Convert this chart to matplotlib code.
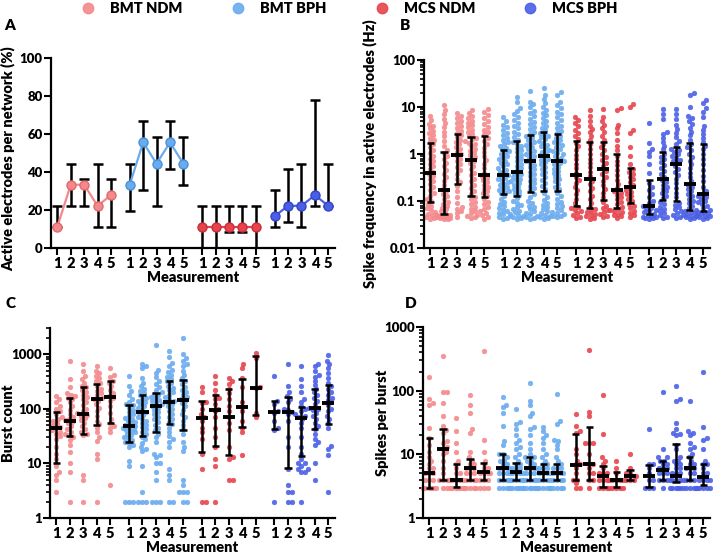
import numpy as np
import matplotlib
matplotlib.use("Agg")
import matplotlib.pyplot as plt
from matplotlib.lines import Line2D
from matplotlib.ticker import LogLocator, NullFormatter

plt.rcParams['font.family'] = ['Lato', 'DejaVu Sans']
plt.rcParams['font.weight'] = 'bold'
plt.rcParams['axes.labelweight'] = 'bold'

# groups / colours
groups = ['BMT NDM', 'BMT BPH', 'MCS NDM', 'MCS BPH']
colors = ['#F4888B', '#69ABEF', '#E6434C', '#4A5FE6']
edge_colors = ['#E06A6E', '#4A90DA', '#C8303A', '#3346C8']
measurements = ['1', '2', '3', '4', '5']

# Panel A: active electrodes per network (%), median with IQR
a_median = [[11.1, 33.3, 33.3, 22.2, 27.8],
            [33.3, 55.6, 44.4, 55.6, 44.4],
            [11.1, 11.1, 11.1, 11.1, 11.1],
            [16.7, 22.2, 22.2, 27.8, 22.2]]
a_low = [[11.1, 22.2, 22.2, 11.1, 11.1],
         [19.4, 30.6, 22.2, 41.7, 33.3],
         [0.0, 0.0, 8.3, 8.3, 0.0],
         [11.1, 13.9, 11.1, 22.2, 22.2]]
a_high = [[22.2, 44.4, 36.1, 44.4, 36.1],
          [44.4, 66.7, 58.3, 66.7, 58.3],
          [22.2, 22.2, 22.2, 22.2, 22.2],
          [30.6, 41.7, 44.4, 77.8, 44.4]]

# Panel B: spike frequency in active electrodes (Hz)
b_bmt_ndm = [
    [0.042, 0.043, 0.045, 0.047, 0.05, 0.054, 0.058, 0.063, 0.07, 0.078, 0.088,
     0.1, 0.11, 0.13, 0.15, 0.17, 0.2, 0.23, 0.26, 0.3, 0.34, 0.38,
     0.42, 0.48, 0.55, 0.62, 0.7, 0.8, 0.92, 1.05, 1.2, 1.4, 1.6,
     1.8, 2.0, 2.2, 2.5, 2.8, 3.1, 3.5, 4.0, 4.4, 5.2, 6.5],
    [0.042, 0.042, 0.043, 0.044, 0.045, 0.046, 0.047, 0.048, 0.049, 0.05, 0.051,
     0.055, 0.06, 0.066, 0.072, 0.08, 0.088, 0.097, 0.11, 0.125, 0.14, 0.16,
     0.18, 0.22, 0.27, 0.32, 0.38, 0.45, 0.55, 0.65, 0.78, 0.9, 1.05,
     1.2, 1.5, 1.9, 2.4, 3.0, 3.7, 4.5, 5.5, 7.0, 8.5, 11.0],
    [0.045, 0.055, 0.062, 0.068, 0.075, 0.09, 0.12, 0.16, 0.21,
     0.25, 0.3, 0.38, 0.45, 0.52, 0.6, 0.7, 0.8, 0.9,
     1.0, 1.1, 1.25, 1.4, 1.6, 1.8, 2.0, 2.3, 2.5,
     2.8, 3.1, 3.5, 4.0, 4.5, 5.0, 5.8, 6.5, 7.5],
    [0.043, 0.045, 0.048, 0.05, 0.055, 0.06, 0.067, 0.075, 0.085, 0.095, 0.11, 0.12,
     0.14, 0.16, 0.19, 0.22, 0.26, 0.3, 0.35, 0.4, 0.47, 0.55, 0.63, 0.7,
     0.8, 0.88, 0.97, 1.07, 1.18, 1.3, 1.45, 1.6, 1.75, 1.9, 2.05, 2.2,
     2.4, 2.7, 3.0, 3.3, 3.7, 4.1, 4.6, 5.1, 5.7, 6.4, 7.4, 8.5],
    [0.042, 0.045, 0.05, 0.055, 0.06, 0.067, 0.075, 0.085, 0.095, 0.11,
     0.13, 0.145, 0.16, 0.18, 0.2, 0.22, 0.25, 0.28, 0.31, 0.34,
     0.4, 0.5, 0.62, 0.75, 0.9, 1.1, 1.35, 1.6, 1.9, 2.2,
     2.6, 2.9, 3.3, 3.8, 4.4, 5.0, 5.8, 6.6, 7.8, 9.0],
]
b_bmt_bph = [
    [0.042, 0.044, 0.046, 0.049, 0.052, 0.056, 0.06, 0.065, 0.071, 0.078, 0.086, 0.095, 0.11, 0.125,
     0.145, 0.155, 0.165, 0.175, 0.19, 0.2, 0.215, 0.23, 0.25, 0.27, 0.29, 0.31, 0.33, 0.35,
     0.38, 0.42, 0.46, 0.5, 0.55, 0.6, 0.65, 0.71, 0.78, 0.85, 0.92, 1.0, 1.08, 1.15,
     1.25, 1.35, 1.5, 1.65, 1.8, 2.0, 2.2, 2.5, 2.8, 3.2, 3.7, 4.2, 5.0, 6.0],
    [0.042, 0.043, 0.045, 0.047, 0.05, 0.053, 0.057, 0.062, 0.068, 0.075, 0.083, 0.092, 0.1, 0.115,
     0.135, 0.15, 0.165, 0.18, 0.2, 0.22, 0.24, 0.26, 0.28, 0.3, 0.32, 0.35, 0.37, 0.4,
     0.45, 0.5, 0.56, 0.62, 0.7, 0.78, 0.87, 0.97, 1.08, 1.2, 1.35, 1.5, 1.65, 1.8,
     2.0, 2.3, 2.6, 3.0, 3.5, 4.0, 4.6, 5.3, 6.0, 7.0, 8.2, 9.5, 13.0, 16.0],
    [0.042, 0.044, 0.046, 0.049, 0.052, 0.056, 0.06, 0.066, 0.073, 0.08, 0.09, 0.1, 0.12, 0.14,
     0.17, 0.19, 0.21, 0.24, 0.27, 0.3, 0.34, 0.38, 0.42, 0.47, 0.52, 0.58, 0.64, 0.7,
     0.75, 0.82, 0.9, 0.98, 1.07, 1.17, 1.28, 1.4, 1.53, 1.67, 1.82, 2.0, 2.2, 2.4,
     2.7, 3.0, 3.4, 3.8, 4.3, 4.9, 5.6, 6.4, 7.3, 8.4, 9.8, 11.5, 13.0, 22.0],
    [0.042, 0.043, 0.045, 0.048, 0.051, 0.055, 0.06, 0.066, 0.073, 0.081, 0.09, 0.105, 0.12, 0.15,
     0.18, 0.21, 0.24, 0.28, 0.32, 0.37, 0.42, 0.48, 0.54, 0.6, 0.67, 0.74, 0.8, 0.87,
     0.95, 1.03, 1.12, 1.22, 1.33, 1.45, 1.58, 1.72, 1.88, 2.05, 2.25, 2.45, 2.65, 2.85,
     3.2, 3.6, 4.0, 4.5, 5.1, 5.8, 6.6, 7.5, 8.6, 10.0, 12.0, 15.0, 18.0, 25.0],
    [0.045, 0.047, 0.049, 0.052, 0.055, 0.059, 0.064, 0.07, 0.077, 0.085, 0.095, 0.11, 0.125, 0.15,
     0.18, 0.2, 0.23, 0.26, 0.29, 0.32, 0.36, 0.4, 0.44, 0.49, 0.54, 0.6, 0.65, 0.7,
     0.75, 0.82, 0.9, 0.98, 1.07, 1.17, 1.28, 1.4, 1.53, 1.67, 1.83, 2.0, 2.2, 2.45,
     2.8, 3.1, 3.5, 4.0, 4.6, 5.3, 6.1, 7.0, 8.0, 9.3, 11.0, 13.0, 18.0, 21.0],
]
b_mcs_ndm = [
    [0.044, 0.046, 0.05, 0.055, 0.06, 0.065, 0.07, 0.076,
     0.09, 0.11, 0.14, 0.17, 0.2, 0.24, 0.28, 0.32,
     0.4, 0.5, 0.62, 0.78, 0.95, 1.2, 1.45, 1.75,
     2.1, 2.4, 2.8, 3.3, 3.9, 4.5, 5.2, 6.0],
    [0.042, 0.044, 0.047, 0.05, 0.054, 0.058, 0.062, 0.067,
     0.075, 0.09, 0.11, 0.13, 0.16, 0.19, 0.23, 0.27,
     0.34, 0.42, 0.52, 0.65, 0.8, 1.0, 1.25, 1.6,
     2.0, 2.4, 2.9, 3.4, 4.0, 5.0, 6.5, 8.5],
    [0.045, 0.048, 0.052, 0.057, 0.063, 0.07, 0.08, 0.095,
     0.12, 0.15, 0.18, 0.22, 0.27, 0.32, 0.37, 0.43,
     0.55, 0.65, 0.75, 0.87, 1.0, 1.2, 1.4, 1.65,
     2.0, 2.4, 2.9, 3.5, 4.2, 5.0, 6.0, 9.0],
    [0.044, 0.047, 0.05, 0.054, 0.058, 0.062, 0.065, 0.068,
     0.075, 0.085, 0.095, 0.11, 0.12, 0.135, 0.15, 0.16,
     0.19, 0.23, 0.28, 0.35, 0.45, 0.58, 0.72, 0.9,
     1.2, 1.5, 2.0, 2.8, 3.5, 4.2, 8.5, 9.5],
    [0.045, 0.05, 0.056, 0.062, 0.07, 0.078, 0.085,
     0.1, 0.11, 0.125, 0.14, 0.155, 0.17, 0.19,
     0.22, 0.25, 0.29, 0.33, 0.38, 0.42, 0.47,
     0.6, 0.9, 1.4, 2.8, 3.2, 10.0, 11.5],
]
b_mcs_bph = [
    [0.042, 0.043, 0.044, 0.045, 0.046, 0.048, 0.05,
     0.054, 0.057, 0.06, 0.064, 0.068, 0.072, 0.077,
     0.09, 0.1, 0.12, 0.14, 0.17, 0.2, 0.24,
     0.4, 0.6, 0.9, 1.1, 1.3, 1.7, 4.5],
    [0.043, 0.046, 0.05, 0.055, 0.061, 0.068, 0.076, 0.085, 0.096,
     0.115, 0.13, 0.145, 0.16, 0.18, 0.2, 0.22, 0.25, 0.28,
     0.33, 0.38, 0.44, 0.5, 0.58, 0.67, 0.77, 0.88, 1.0,
     1.25, 1.5, 1.8, 2.2, 2.7, 3.0, 5.5, 7.0, 9.0],
    [0.043, 0.046, 0.05, 0.055, 0.06, 0.066, 0.073, 0.082, 0.092,
     0.12, 0.15, 0.19, 0.24, 0.3, 0.36, 0.42, 0.48, 0.55,
     0.65, 0.7, 0.76, 0.83, 0.9, 1.0, 1.1, 1.2, 1.3,
     1.6, 1.9, 2.3, 2.8, 3.4, 4.2, 5.5, 7.0, 9.0],
    [0.042, 0.043, 0.045, 0.047, 0.049, 0.051, 0.053, 0.055, 0.058, 0.06, 0.063,
     0.07, 0.08, 0.09, 0.1, 0.11, 0.125, 0.14, 0.16, 0.18, 0.2, 0.22,
     0.26, 0.32, 0.4, 0.5, 0.6, 0.72, 0.86, 1.0, 1.2, 1.4, 1.6,
     2.0, 2.5, 3.0, 3.6, 4.3, 5.0, 5.8, 6.5, 10.0, 18.0, 20.0],
    [0.042, 0.043, 0.045, 0.047, 0.049, 0.051, 0.053, 0.055, 0.057, 0.059,
     0.065, 0.07, 0.077, 0.085, 0.093, 0.1, 0.11, 0.12, 0.125, 0.135,
     0.16, 0.2, 0.26, 0.34, 0.45, 0.6, 0.8, 1.0, 1.25, 1.5,
     1.8, 2.2, 2.7, 3.3, 4.0, 6.0, 8.0, 9.5, 12.0, 14.0],
]
b_median = [[0.4, 0.17, 0.95, 0.75, 0.36], [0.36, 0.42, 0.72, 0.9, 0.72],
            [0.35, 0.3, 0.48, 0.17, 0.2], [0.08, 0.3, 0.6, 0.23, 0.14]]
b_q1 = [[0.095, 0.052, 0.23, 0.13, 0.12], [0.14, 0.13, 0.155, 0.165, 0.165],
        [0.08, 0.07, 0.105, 0.07, 0.09], [0.052, 0.105, 0.1, 0.065, 0.06]]
b_q3 = [[1.7, 1.1, 2.6, 2.3, 2.4], [1.2, 1.9, 2.5, 3.0, 2.6],
        [1.9, 1.8, 1.8, 1.0, 0.5], [0.28, 1.1, 1.4, 1.75, 1.6]]

# Panel C: burst count
c_bmt_ndm = [
    [3, 5, 6, 7, 9, 12, 15, 20, 28, 32, 35, 38, 40, 44, 46, 50, 55, 60, 65, 70, 80, 90, 100, 110, 130, 150, 170],
    [2, 7, 10, 16, 22, 27, 30, 33, 35, 38, 42, 48, 55, 58, 62, 66, 72, 80, 95, 110, 130, 150, 160, 170, 180, 190, 250, 350, 750],
    [2, 5, 6, 33, 35, 38, 42, 48, 55, 62, 68, 75, 78, 82, 90, 100, 115, 130, 150, 165, 180, 200, 220, 245, 260, 300, 350, 400, 500, 650],
    [2, 12, 15, 26, 30, 38, 45, 52, 60, 75, 90, 105, 120, 140, 150, 160, 175, 190, 210, 230, 260, 290, 320, 360, 400, 450, 500, 600],
    [4, 37, 45, 48, 55, 65, 85, 110, 140, 160, 170, 190, 220, 260, 300, 320, 380, 410, 550],
]
c_bmt_bph = [
    [2, 2, 2, 9, 11, 20, 22, 24, 25, 27, 29, 31, 33, 35, 37, 39, 41, 43, 45, 47, 49, 51, 54, 57, 60,
     64, 68, 73, 80, 88, 95, 105, 115, 120, 135, 150, 180, 210, 260, 400],
    [2, 2, 2, 3, 9, 17, 18, 20, 24, 28, 31, 34, 38, 42, 46, 50, 55, 60, 65, 70, 76, 82, 88, 95, 102,
     110, 120, 130, 140, 150, 160, 175, 190, 210, 230, 260, 300, 360, 550, 600, 650],
    [2, 2, 2, 5, 7, 10, 10, 13, 14, 15, 25, 30, 35, 40, 45, 50, 58, 65, 72, 80, 88, 96, 105, 112, 120,
     128, 136, 145, 155, 165, 175, 185, 200, 220, 250, 280, 320, 380, 450, 520, 1450],
    [2, 2, 5, 6, 8, 20, 25, 28, 32, 38, 45, 52, 58, 65, 72, 80, 90, 100, 110, 120, 130, 140, 150, 165,
     180, 200, 220, 240, 260, 290, 320, 350, 380, 420, 470, 520, 600, 700, 900, 1150],
    [2, 2, 3, 3, 3, 4, 5, 17, 20, 25, 35, 42, 50, 60, 70, 80, 95, 110, 125, 140, 150, 165, 180, 200, 220,
     250, 280, 320, 360, 420, 500, 600, 650, 750, 850, 1000, 2000],
]
c_mcs_ndm = [
    [2, 2, 8, 15, 28, 37, 45, 60, 70, 80, 100, 125, 135, 200, 250],
    [2, 9, 12, 20, 30, 45, 70, 90, 100, 120, 150, 160, 180, 220, 300, 400],
    [5, 5, 12, 13, 20, 40, 55, 70, 90, 110, 150, 190, 230, 280, 320, 370],
    [14, 37, 45, 60, 90, 107, 130, 250, 360, 550, 650],
    [70, 85, 240, 250, 850, 1050],
]
c_mcs_bph = [
    [2, 40, 45, 60, 85, 90, 120, 140, 400],
    [2, 2, 3, 3, 4, 8, 20, 30, 60, 80, 88, 95, 100, 130, 150, 170, 200, 260, 650],
    [2, 7, 7, 8, 8, 9, 10, 10, 12, 15, 20, 30, 45, 55, 65, 70, 75, 80, 90, 100, 110, 130, 150, 200, 260, 350, 600],
    [5, 10, 22, 25, 28, 35, 42, 48, 55, 65, 75, 85, 95, 100, 105, 120, 140, 160, 180, 200, 230, 270, 320,
     380, 420, 500, 600, 670],
    [3, 14, 18, 21, 45, 55, 65, 75, 90, 100, 115, 130, 145, 160, 180, 200, 230, 260, 300, 360, 450, 550,
     650, 750, 950],
]
c_median = [[45, 60, 80, 150, 166], [49, 86, 110, 132, 145],
            [69, 95, 70, 107, 240], [87, 88, 69, 102, 129]]
c_q1 = [[10, 32, 34, 50, 54], [25, 32, 37, 53, 41],
        [16, 21, 14, 46, 76], [43, 8.2, 13.7, 43, 52]]
c_q3 = [[88, 155, 247, 285, 315], [119, 177, 197, 325, 330],
        [137, 177, 228, 355, 935], [141, 166, 107, 234, 272]]

# Panel D: spikes per burst
d_bmt_ndm = [
    [3, 3, 3, 3, 3, 3, 4, 4, 4, 5, 5, 5, 6, 6, 7, 8, 9, 11, 14, 18, 26, 60, 65, 75, 165],
    [3, 3, 4, 4, 4, 4, 5, 6, 8, 10, 11, 12, 13, 15, 16, 22, 24, 28, 40, 65, 95, 97, 350],
    [3, 3, 3, 3, 3, 3, 4, 4, 4, 4, 4, 5, 5, 6, 7, 8, 11, 15, 23, 37],
    [3, 3, 3, 3, 3, 4, 4, 4, 4, 5, 5, 5, 6, 6, 6, 7, 7, 8, 9, 11, 22, 25, 45, 60, 85],
    [3, 3, 3, 4, 4, 4, 5, 5, 5, 5, 6, 6, 7, 8, 11, 17, 420],
]
d_bmt_bph = [
    [3, 3, 3, 3, 4, 4, 4, 4, 5, 5, 5, 6, 6, 6, 6, 7, 7, 8, 8, 9, 10, 10, 14, 16, 28, 45, 55, 60, 80],
    [3, 3, 3, 3, 3, 3, 4, 4, 4, 4, 4, 5, 5, 5, 5, 5, 6, 6, 6, 7, 7, 8, 9, 10, 12, 13, 15, 17, 20, 25, 30, 32, 52],
    [3, 3, 3, 3, 3, 3, 4, 4, 4, 4, 4, 5, 5, 5, 6, 6, 6, 6, 7, 7, 8, 8, 9, 9, 10, 12, 15, 20, 25, 27, 40, 45,
     60, 70, 130],
    [3, 3, 3, 3, 3, 4, 4, 4, 4, 5, 5, 5, 5, 6, 6, 6, 7, 7, 8, 9, 10, 12, 15, 18, 20, 23, 27],
    [3, 3, 3, 3, 3, 4, 4, 4, 4, 5, 5, 5, 5, 6, 6, 6, 7, 7, 8, 9, 12, 14, 16, 17, 30, 33, 90],
]
d_mcs_ndm = [
    [3, 3, 3.5, 4, 4, 5, 6, 7, 7, 8, 10, 12, 22, 23, 28, 43],
    [3, 4, 4, 5, 5, 6, 7, 7, 10, 15, 15, 15, 40, 47, 430],
    [3, 3, 3, 3, 4, 4, 4, 4, 5, 5, 5, 6, 7, 8, 9, 21, 85],
    [3, 3, 3, 3, 4, 4, 4, 4, 5, 6, 8],
    [4, 4, 4, 4.5, 5, 5, 6, 10],
]
d_mcs_bph = [
    [3, 3, 3, 4, 4, 5, 6, 7, 7, 25],
    [3, 4, 4, 4, 5, 5, 5, 6, 6, 6, 7, 7, 8, 8, 9, 9, 12, 95],
    [3, 3, 3, 3, 3, 3, 4, 4, 4, 4, 4, 5, 5, 5, 6, 6, 7, 7, 8, 8, 9, 12, 14, 20, 21, 22, 25, 31, 68, 73, 120],
    [3, 3, 3, 3, 4, 4, 4, 5, 5, 6, 6, 6, 7, 7, 8, 9, 10, 12, 13, 15, 20, 22, 23, 70],
    [3, 3, 3, 3, 3, 4, 4, 4, 4, 5, 5, 6, 7, 7, 8, 12, 17, 18, 27, 200],
]
d_median = [[5.0, 12.1, 4.0, 6.2, 5.2], [6.2, 5.2, 6.2, 5.1, 5.1],
            [6.9, 7.1, 4.6, 4.0, 4.6], [4.6, 5.7, 4.6, 6.2, 4.35]]
d_q1 = [[3.0, 4.0, 3.1, 4.0, 4.0], [4.0, 4.0, 4.0, 4.0, 4.0],
        [3.9, 4.0, 3.1, 3.1, 4.0], [3.1, 4.0, 3.7, 4.0, 3.3]]
d_q3 = [[18, 24.7, 7.1, 8.5, 7.2], [10, 7.2, 9.1, 7.1, 7.0],
        [20.6, 27, 6.6, 5.3, 5.6], [6.9, 7.9, 14.4, 9.1, 7.1]]

GROUP_STEP = 5.4


def xpos(g):
    return [g * GROUP_STEP + m for m in range(5)]


all_x = [x for g in range(4) for x in xpos(g)]
XLIM = (-0.47, 3 * GROUP_STEP + 4 + 0.5)

fig = plt.figure(figsize=(7.13, 5.56), dpi=100)
axA = fig.add_axes([51 / 713, 1 - 248 / 556, 284 / 713, 190 / 556])
axB = fig.add_axes([424 / 713, 1 - 248 / 556, 286 / 713, 188 / 556])
axC = fig.add_axes([50 / 713, 1 - 518 / 556, 285 / 713, 190 / 556])
axD = fig.add_axes([423 / 713, 1 - 518 / 556, 287 / 713, 191 / 556])


def style(ax):
    for s in ['top', 'right']:
        ax.spines[s].set_visible(False)
    for s in ['left', 'bottom']:
        ax.spines[s].set_linewidth(1.6)
    ax.set_xlim(*XLIM)
    ax.set_xticks(all_x)
    ax.set_xticklabels(measurements * 4, fontsize=10.5, fontweight='heavy')
    ax.tick_params(axis='x', length=5, width=1.5, pad=1.5)
    ax.tick_params(axis='y', which='major', length=5, width=1.5, labelsize=9.5, pad=1)
    ax.tick_params(axis='y', which='minor', length=3, width=1.2)
    ax.set_xlabel('Measurement', fontsize=10.5, fontweight='heavy', labelpad=1)


def swarm_offsets(ax, x0, vals, diam=4.0, half=6.5):
    vals = np.asarray(vals, dtype=float)
    pts = ax.transData.transform(np.column_stack([np.full(len(vals), x0), vals]))
    ppu = ax.transData.transform((x0 + 1, 1))[0] - ax.transData.transform((x0, 1))[0]
    ypx = pts[:, 1]
    cands = [0.0]
    k = 1
    while k * 0.8 <= half:
        cands += [k * 0.8, -k * 0.8]
        k += 1
    px, py = [], []
    out = np.zeros(len(vals))
    for i in np.argsort(ypx, kind='stable'):
        best, bestd = 0.0, -1.0
        for c in cands:
            if px:
                d = np.min(np.hypot(np.array(px) - c, np.array(py) - ypx[i]))
            else:
                d = np.inf
            if d >= diam:
                best = c
                break
            if d > bestd:
                bestd, best = d, c
        px.append(best)
        py.append(ypx[i])
        out[i] = best / ppu
    return x0 + out


def strip_panel(ax, data, med, q1, q3):
    for g, cols in enumerate(data):
        for m, vals in enumerate(cols):
            x0 = xpos(g)[m]
            xs = swarm_offsets(ax, x0, vals)
            ax.scatter(xs, vals, s=12, color=colors[g], edgecolors=colors[g],
                       linewidths=0.3, alpha=0.9, zorder=2, clip_on=False)
            ax.vlines(x0, q1[g][m], q3[g][m], color='black', lw=1.8, zorder=3)
            ax.hlines([q1[g][m], q3[g][m]], x0 - 0.27, x0 + 0.27, color='black', lw=1.8, zorder=3)
            ax.hlines(med[g][m], x0 - 0.45, x0 + 0.45, color='black', lw=2.8, zorder=3)


def log_axis(ax, lo, hi, ticks, labels):
    ax.set_yscale('log')
    ax.set_ylim(lo, hi)
    ax.set_yticks(ticks)
    ax.set_yticklabels(labels, fontweight='heavy')
    ax.yaxis.set_minor_locator(LogLocator(base=10, subs=np.arange(2, 10)))
    ax.yaxis.set_minor_formatter(NullFormatter())


# Panel A
style(axA)
axA.set_ylim(0, 100)
axA.set_yticks([0, 20, 40, 60, 80, 100])
axA.set_yticklabels(['0', '20', '40', '60', '80', '100'], fontweight='heavy')
for g in range(4):
    x = xpos(g)
    med = np.array(a_median[g])
    lo = med - np.array(a_low[g])
    hi = np.array(a_high[g]) - med
    axA.errorbar(x, med, yerr=[lo, hi], fmt='none', ecolor='black', elinewidth=1.8,
                 capsize=3.5, capthick=1.8, zorder=2)
    axA.plot(x, med, '-', color=colors[g], lw=1.6, zorder=3)
    axA.plot(x, med, 'o', ms=6.5, mfc=colors[g], mec=edge_colors[g], mew=1.0, zorder=4)
axA.set_ylabel('Active electrodes per network (%)', fontsize=10.5, fontweight='heavy')
axA.yaxis.set_label_coords(-0.125, 0.47)

# Panel B
style(axB)
log_axis(axB, 0.01, 100, [0.01, 0.1, 1, 10, 100], ['0.01', '0.1', '1', '10', '100'])
strip_panel(axB, [b_bmt_ndm, b_bmt_bph, b_mcs_ndm, b_mcs_bph], b_median, b_q1, b_q3)
axB.set_ylabel('Spike frequency in active electrodes (Hz)', fontsize=10.5, fontweight='heavy')
axB.yaxis.set_label_coords(-0.165, 0.5)

# Panel C
style(axC)
log_axis(axC, 1, 3000, [1, 10, 100, 1000], ['1', '10', '100', '1000'])
strip_panel(axC, [c_bmt_ndm, c_bmt_bph, c_mcs_ndm, c_mcs_bph], c_median, c_q1, c_q3)
axC.set_ylabel('Burst count', fontsize=10.5, fontweight='heavy')
axC.yaxis.set_label_coords(-0.123, 0.5)

# Panel D
style(axD)
log_axis(axD, 1, 1000, [1, 10, 100, 1000], ['1', '10', '100', '1000'])
strip_panel(axD, [d_bmt_ndm, d_bmt_bph, d_mcs_ndm, d_mcs_bph], d_median, d_q1, d_q3)
axD.set_ylabel('Spikes per burst', fontsize=10.5, fontweight='heavy')
axD.yaxis.set_label_coords(-0.118, 0.5)

# panel letters
for lab, (x, y) in zip('ABCD', [(10, 26), (405, 26), (10, 303), (411, 303)]):
    fig.text(x / 713, 1 - y / 556, lab, fontsize=11, fontweight='heavy', ha='center', va='center')

# legend
handles = [Line2D([], [], marker='o', ls='none', ms=7.5, mfc=c, mec=c, alpha=0.9) for c in colors]
fig.legend(handles, groups, loc='center', bbox_to_anchor=(0.49, 0.985), ncol=4, frameon=False,
           handlelength=1.0, handletextpad=1.0, columnspacing=3.3,
           prop={'weight': 'heavy', 'size': 10.5})

fig.savefig('out.png', dpi=100)
